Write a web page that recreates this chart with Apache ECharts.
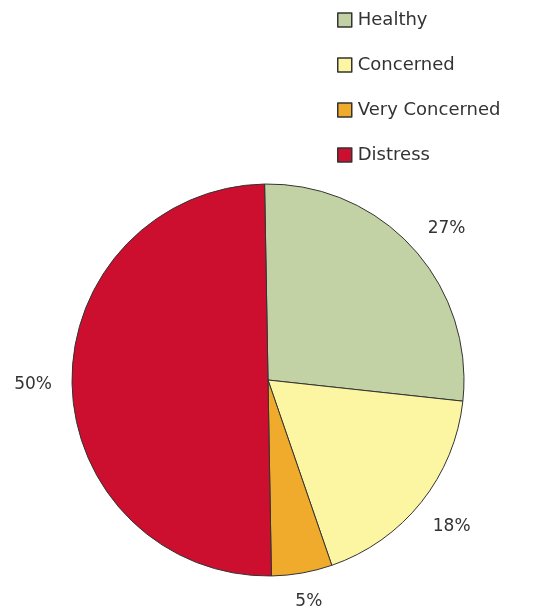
<!DOCTYPE html>
<html>
<head>
<meta charset="utf-8">
<script src="https://cdn.jsdelivr.net/npm/echarts@6/dist/echarts.min.js"></script>
<style>
    html, body { margin: 0; padding: 0; background: #fff; }
</style>
</head>
<body>
<div id="main" style="width: 534px;height:607px;"></div>
<script type="text/javascript">
    var categories = ['Healthy', 'Concerned', 'Very Concerned', 'Distress'];
    var percents = [27, 18, 5, 50];
    var colors = ['#c3d2a5', '#fcf6a2', '#f1ab2c', '#cc0f2e'];

    var piedata = [];
    for (var i = 0; i < categories.length; i++) {
        piedata.push({ name: categories[i], value: percents[i], itemStyle: { color: colors[i] } });
    }

    var myChart = echarts.init(document.getElementById('main'));
    var option = {
        animation: false,
        legend: {
            orient: 'vertical',
            left: 332,
            top: 6,
            icon: 'rect',
            itemWidth: 14,
            itemHeight: 14,
            itemGap: 27,
            itemStyle: { borderColor: '#333', borderWidth: 1.5 },
            textStyle: { fontFamily: 'DejaVu Sans', fontSize: 18, color: '#333', padding: [0, 0, 0, 1] },
            data: categories
        },
        series: [
            {
                // the visible pie
                name: 'share',
                type: 'pie',
                center: [268, 380],
                radius: [0, 196],
                startAngle: 91,
                clockwise: true,
                label: { show: false },
                labelLine: { show: false },
                itemStyle: { borderColor: '#333', borderWidth: 1 },
                emphasis: { disabled: true },
                data: piedata
            },
            {
                // transparent pie used only to place the % labels on a circle
                name: 'labels',
                type: 'pie',
                silent: true,
                center: [268, 380],
                radius: [0, 464],
                startAngle: 91,
                clockwise: true,
                itemStyle: { color: 'transparent', borderWidth: 0 },
                label: {
                    show: true,
                    position: 'inside',
                    formatter: '{c}%',
                    fontFamily: 'DejaVu Sans',
                    fontSize: 17,
                    color: '#333'
                },
                labelLine: { show: false },
                labelLayout: function (params) {
                    // small nudges to match the original label spots
                    if (params.dataIndex === 0) return { dx: 5, dy: 7 };
                    if (params.dataIndex === 2) return { dy: -10 };
                },
                emphasis: { disabled: true },
                data: categories.map(function (c, i) {
                    return { name: c, value: percents[i], itemStyle: { color: 'transparent' } };
                })
            }
        ]
    };
    myChart.setOption(option);
</script>
</body>
</html>
